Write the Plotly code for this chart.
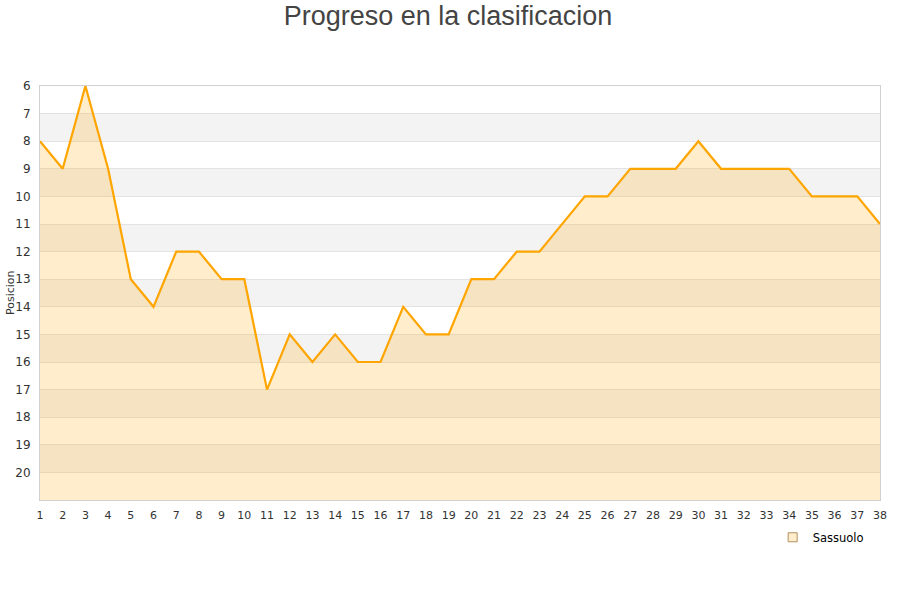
import plotly.graph_objects as go

jornadas = list(range(1, 39))
posiciones = [8, 9, 6, 9, 13, 14, 12, 12, 13, 13, 17, 15, 16, 15, 16, 16, 14, 15, 15, 13,
              13, 12, 12, 11, 10, 10, 9, 9, 9, 8, 9, 9, 9, 9, 10, 10, 10, 11]
equipo = "Sassuolo"
titulo = "Progreso en la clasificacion"
y_titulo = "Posicion"
y_ticks = list(range(6, 21))
base = 21

fig = go.Figure()

# baseline for fill
fig.add_trace(go.Scatter(x=jornadas, y=[base] * len(jornadas), mode="lines",
                         line=dict(width=0, color="rgba(0,0,0,0)"),
                         showlegend=False, hoverinfo="skip"))
fig.add_trace(go.Scatter(x=jornadas, y=posiciones, mode="lines",
                         line=dict(color="#ffa500", width=2.2),
                         fill="tonexty", fillcolor="rgba(255,165,0,0.2)",
                         showlegend=False, name=equipo))
fig.add_trace(go.Scatter(x=[None], y=[None], mode="markers", name=equipo,
                         marker=dict(symbol="square", size=9,
                                     color="#ffedcc", line=dict(color="#b09060", width=1))))

shapes = []
for lo in range(7, 21, 2):
    shapes.append(dict(type="rect", xref="paper", yref="y", x0=0, x1=1, y0=lo, y1=lo + 1,
                       fillcolor="#f3f3f3", line=dict(width=0), layer="below"))

fig.update_layout(
    width=900, height=600,
    paper_bgcolor="white", plot_bgcolor="white",
    margin=dict(l=40, r=20, t=86, b=100),
    title=dict(text=titulo, xref="container", x=448 / 900, xanchor="center",
               yref="container", y=1.0, yanchor="top", pad=dict(t=6, b=0, l=0, r=0),
               font=dict(family="Liberation Sans", size=27, color="#444444")),
    shapes=shapes,
    legend=dict(x=0.9865, y=-0.055, xanchor="right", yanchor="top",
                font=dict(family="DejaVu Sans", size=11.5, color="#000000"),
                bgcolor="rgba(0,0,0,0)"),
    font=dict(family="DejaVu Sans"),
    annotations=[dict(text=y_titulo, xref="paper", yref="paper", x=0, y=0.5,
                      xanchor="center", yanchor="middle",
                      xshift=-30, textangle=-90, showarrow=False,
                      font=dict(family="DejaVu Sans", size=11, color="#333333"))],
)
fig.update_xaxes(range=[1, 38], tickmode="array", tickvals=jornadas,
                 ticktext=[str(j) for j in jornadas], showgrid=False, zeroline=False,
                 showline=True, linecolor="#d0d0d0", mirror=True, automargin=False,
                 tickfont=dict(size=11, color="#333333"), ticks="outside", ticklen=5,
                 tickcolor="rgba(0,0,0,0)")
fig.update_yaxes(range=[base, 6], tickmode="array", tickvals=y_ticks,
                 ticktext=[str(t) for t in y_ticks], showgrid=True, gridcolor="#e3e3e3",
                 zeroline=False, showline=True, linecolor="#d0d0d0", mirror=True,
                 automargin=False,
                 tickfont=dict(size=12, color="#333333"), ticks="outside", ticklen=6,
                 tickcolor="rgba(0,0,0,0)")

fig.write_html("out.html", config={"displayModeBar": False},
               post_script="document.body.style.margin='0px';")
